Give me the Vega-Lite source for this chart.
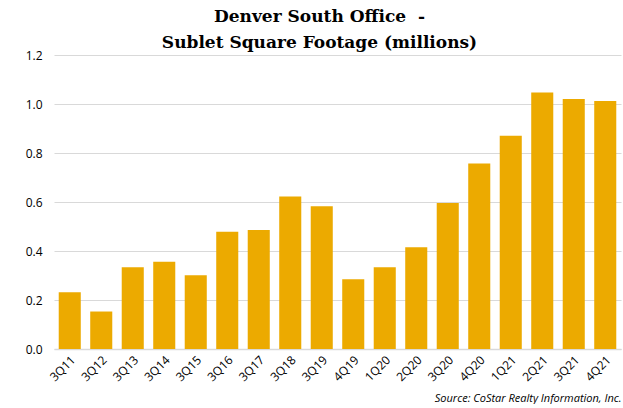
{
  "$schema": "https://vega.github.io/schema/vega-lite/v6.json",
  "width": 567,
  "height": 294,
  "padding": {"left": 25, "top": 8, "right": 2, "bottom": 0},
  "background": "white",
  "title": {
    "text": ["Denver South Office \u00a0-", "Sublet Square Footage (millions)"],
    "font": "DejaVu Serif",
    "fontSize": 17,
    "fontWeight": "bold",
    "color": "#000000",
    "anchor": "middle",
    "lineHeight": 26,
    "offset": -3,
    "dx": -18
  },
  "data": {
    "values": [
      {"q": "3Q11", "v": 0.232},
      {"q": "3Q12", "v": 0.153},
      {"q": "3Q13", "v": 0.334},
      {"q": "3Q14", "v": 0.356},
      {"q": "3Q15", "v": 0.301},
      {"q": "3Q16", "v": 0.479},
      {"q": "3Q17", "v": 0.486},
      {"q": "3Q18", "v": 0.622},
      {"q": "3Q19", "v": 0.583},
      {"q": "4Q19", "v": 0.285},
      {"q": "1Q20", "v": 0.334},
      {"q": "2Q20", "v": 0.415},
      {"q": "3Q20", "v": 0.596},
      {"q": "4Q20", "v": 0.757},
      {"q": "1Q21", "v": 0.870},
      {"q": "2Q21", "v": 1.047},
      {"q": "3Q21", "v": 1.020},
      {"q": "4Q21", "v": 1.012}
    ]
  },
  "mark": {"type": "bar", "color": "#ECAA00"},
  "encoding": {
    "x": {
      "field": "q",
      "type": "nominal",
      "sort": null,
      "scale": {"paddingInner": 0.3, "paddingOuter": 0.15},
      "axis": {
        "title": "Source: CoStar Realty Information, Inc.",
        "titleAnchor": "end",
        "titleFont": "Open Sans",
        "titleFontStyle": "italic",
        "titleFontWeight": "normal",
        "titleFontSize": 11,
        "titleColor": "#000000",
        "titlePadding": 10,
        "labelAngle": -45,
        "labelFont": "Open Sans",
        "labelFontSize": 12,
        "labelColor": "#000000",
        "ticks": false,
        "labelPadding": 5,
        "domainColor": "#d9d9d9",
        "domainWidth": 1.5
      }
    },
    "y": {
      "field": "v",
      "type": "quantitative",
      "scale": {"domain": [0, 1.2]},
      "axis": {
        "title": null,
        "values": [0, 0.2, 0.4, 0.6, 0.8, 1.0, 1.2],
        "format": ".1f",
        "labelFont": "Open Sans",
        "labelFontSize": 12,
        "labelColor": "#000000",
        "ticks": false,
        "labelPadding": 12,
        "domain": false,
        "gridColor": "#d9d9d9",
        "gridWidth": 1
      }
    }
  },
  "config": {"view": {"stroke": null}}
}
